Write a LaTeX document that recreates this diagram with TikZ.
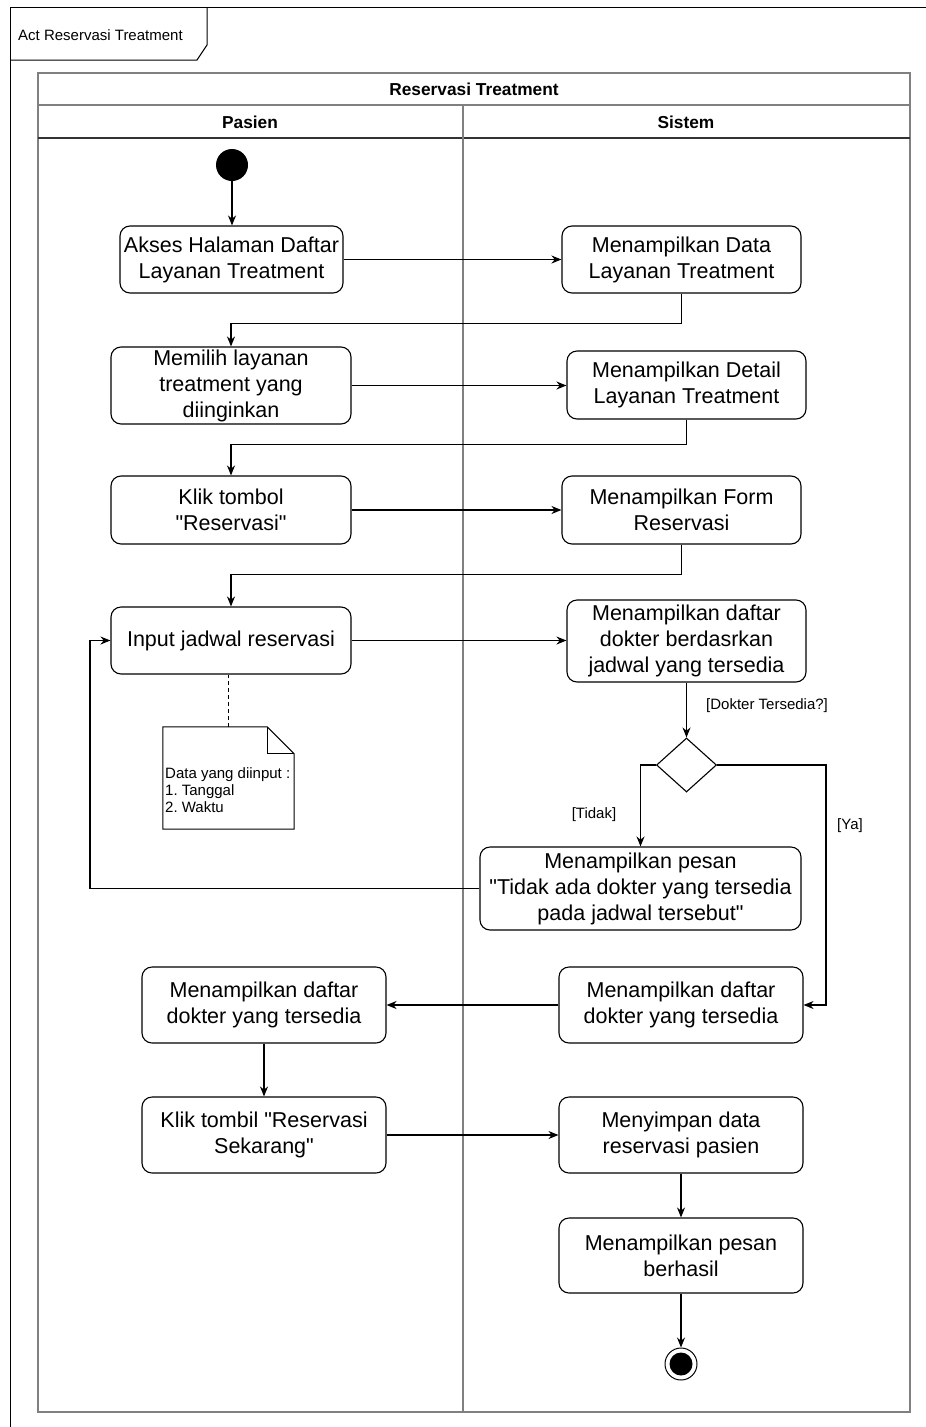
\documentclass[tikz,border=0pt]{standalone}
\usepackage{fontspec}
% straight quotes: switch off the TeX ligature mapping
\setmainfont{Liberation Sans}[Ligatures=TeXOff]
\usetikzlibrary{arrows.meta,shapes.geometric}
\definecolor{lanegray}{HTML}{808080}
\frenchspacing
\begin{document}
\begin{tikzpicture}[x=1pt,y=-1pt,
  act/.style={draw, line width=1.1pt, rounded corners=10pt, align=center,
    inner sep=0pt, font=\fontsize{21.5}{26}\selectfont},
  flow/.style={line width=1.1pt, -{Stealth[length=10pt,width=8pt]}},
  boldflow/.style={flow, line width=1.6pt},
  guard/.style={font=\fontsize{15}{18}\selectfont, inner sep=0pt},
  lanehead/.style={font=\bfseries\fontsize{17.3}{20}\selectfont, inner sep=0pt}]
\useasboundingbox (0,0) rectangle (926,1427);

% outer frame and its name tab
\draw[line width=1pt] (10,1427) -- (10,7) -- (926,7);
\draw[line width=1pt] (10,60) -- (197,60) -- (207,45) -- (207,7);
\node[guard, anchor=west] (frametitle) at (18,35) {Act Reservasi Treatment};

% swimlane pool
\draw[lanegray, line width=1.1pt] (38,73) rectangle (910,1412);
\draw[lanegray, line width=1.1pt] (38,105) -- (910,105);
\draw[black!80, line width=1.3pt] (38,138) -- (910,138);
\draw[lanegray, line width=1.1pt] (463,105) -- (463,1412);
\node[lanehead] (pooltitle) at (474,89) {Reservasi Treatment};
\node[lanehead] (lanep) at (250,122) {Pasien};
\node[lanehead] (lanes) at (686,122) {Sistem};

% start and end
\node[circle, fill=black, minimum size=32pt, inner sep=0pt] (start) at (232,165) {};
\node[circle, draw, line width=1pt, minimum size=32pt, inner sep=0pt] (endo) at (681,1364) {};
\node[circle, fill=black, minimum size=23pt, inner sep=0pt] (endi) at (681,1364) {};

% activities: Pasien lane
\node[act, minimum width=223pt, minimum height=67pt] (a1) at (231.5,259.5) {Akses Halaman Daftar\\Layanan Treatment};
\node[act, minimum width=240pt, minimum height=77pt] (a2) at (231,385.5) {Memilih layanan\\treatment yang\\diinginkan};
\node[act, minimum width=240pt, minimum height=68pt] (a3) at (231,510) {Klik tombol\\"Reservasi"};
\node[act, minimum width=240pt, minimum height=67pt] (a4) at (231,640.5) {Input jadwal reservasi};
\node[act, minimum width=244pt, minimum height=76pt] (a5) at (264,1005) {Menampilkan daftar\\dokter yang tersedia};
\node[act, minimum width=244pt, minimum height=76pt] (a6) at (264,1135) {Klik tombil "Reservasi\\Sekarang"};

% activities: Sistem lane
\node[act, minimum width=239pt, minimum height=67pt] (s1) at (681.5,259.5) {Menampilkan Data\\Layanan Treatment};
\node[act, minimum width=239pt, minimum height=68pt] (s2) at (686.5,385) {Menampilkan Detail\\Layanan Treatment};
\node[act, minimum width=239pt, minimum height=68pt] (s3) at (681.5,510) {Menampilkan Form\\Reservasi};
\node[act, minimum width=239pt, minimum height=82pt] (s4) at (686.5,641) {Menampilkan daftar\\dokter berdasrkan\\jadwal yang tersedia};
\node[act, minimum width=321pt, minimum height=83pt] (s5) at (640.5,888.5) {Menampilkan pesan\\"Tidak ada dokter yang tersedia\\pada jadwal tersebut"};
\node[act, minimum width=244pt, minimum height=76pt] (s6) at (681,1005) {Menampilkan daftar\\dokter yang tersedia};
\node[act, minimum width=244pt, minimum height=76pt] (s7) at (681,1135) {Menyimpan data\\reservasi pasien};
\node[act, minimum width=244pt, minimum height=75pt] (s8) at (681,1255.5) {Menampilkan pesan\\berhasil};

% decision
\node[diamond, draw, line width=1.1pt, minimum width=60pt, minimum height=54pt, inner sep=0pt] (dec) at (686.5,765) {};

% note attached to the schedule input
\node[minimum width=131pt, minimum height=102pt, inner sep=0pt] (note) at (228.5,778) {};
\draw[line width=1pt] (note.north west) -- ([xshift=-27pt]note.north east) -- ([yshift=-27pt]note.north east) -- (note.south east) -- (note.south west) -- cycle;
\draw[line width=1pt] ([xshift=-27pt]note.north east) -- ([xshift=-27pt,yshift=-27pt]note.north east) -- ([yshift=-27pt]note.north east);
\node[guard, anchor=west, align=left, font=\fontsize{15}{17}\selectfont] (notetext) at (165,790) {Data yang diinput :\\1. Tanggal\\2. Waktu};
\draw[dashed, dash pattern=on 4pt off 3pt, line width=1pt] (note.north) -- (note.north |- a4.south);

% helper points for the routed connectors
\coordinate (yaturn) at (826,765);
\coordinate (loopx) at (90,0);

% control flow
\draw[flow] (start.south) -- (start.south |- a1.north);
\draw[flow] (a1.east) -- (s1.west);
\draw[boldflow] (s1.south) -- ++(0,30) -| (a2.north);
\draw[boldflow] (a2.east) -- (a2.east -| s2.west);
\draw[flow] (s2.south) -- ++(0,25) -| (a3.north);
\draw[boldflow] (a3.east) -- (s3.west);
\draw[flow] (s3.south) -- ++(0,30) -| (a4.north);
\draw[flow] (a4.east) -- (a4.east -| s4.west);
\draw[flow] (s4.south) -- (dec.north);
\draw[flow] (dec.west) -| (s5.north);
\draw[flow] (dec.east) -- (yaturn) |- (s6.east);
\draw[flow] (s5.west) -- (s5.west -| loopx) |- (a4.west);
\draw[boldflow] (s6.west) -- (a5.east);
\draw[flow] (a5.south) -- (a6.north);
\draw[flow] (a6.east) -- (s7.west);
\draw[flow] (s7.south) -- (s8.north);
\draw[flow] (s8.south) -- (endo.north);

% guard labels
\node[guard, anchor=west] (gq) at (706,706) {[Dokter Tersedia?]};
\node[guard] (gno) at (594,815) {[Tidak]};
\node[guard] (gyes) at (850,826) {[Ya]};
\end{tikzpicture}
\end{document}
